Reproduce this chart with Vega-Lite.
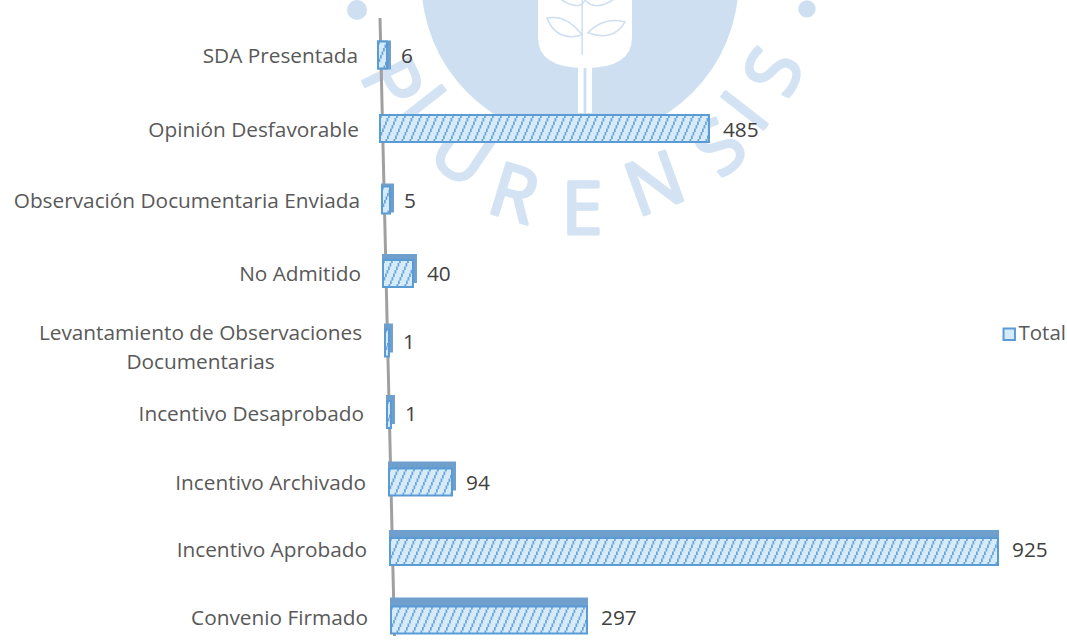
{
"$schema":"https://vega.github.io/schema/vega-lite/v6.json",
"width":612,"height":618,"autosize":{"type":"none"},
"padding":{"left":386,"top":18,"right":69,"bottom":8},
"background":"white",
"config":{"view":{"stroke":null},"font":"Open Sans"},
"params":[
{"name":"ini","value":[-8,-6,-4,-3,-1,1,3,4,5]},
{"name":"fin","value":[-3,2,0.7,0.5,2.3,4.3,3.8,0,4.5]},
{"name":"yo","value":[0,3,4,7,6,7,4,3,1]},
{"name":"franja","value":[0,0,2,5,5,5,6,7,8]},
{"name":"lado","value":[3,0,3,3,3,3,3,0,0]},
{"name":"eje","value":[-6,-3.4,-1.7,0,1.6,3.3,4.9,6.5,8.5]},
{"name":"ejey","value":[-37,3,4,7,6,7,4,3,17]},
{"name":"etx","value":[-28,-27,-26,-25,-185.5,-22,-20,-19,-18]},
{"name":"ety","value":[2,6,6,9,-3,8,6,3,0]},
{"name":"vay","value":[2,6,6,9,6,8,6,3,0]},
{"name":"letras","value":["P","I","U","R","E","N","S","I","S"]},
{"name":"lx","value":[3,33,74,127,196,270,336,362,391]},
{"name":"ly","value":[30,-18.5,-39,-69.5,-125,-220.5,-328,-435.5,-546]},
{"name":"la","value":[64,52,34,17,0,-20,-40,-52,-65]}
],
"data":{"values":[
{"n":0,"estado":"SDA Presentada","total":6},
{"n":1,"estado":"Opinión Desfavorable","total":485},
{"n":2,"estado":"Observación Documentaria Enviada","total":5},
{"n":3,"estado":"No Admitido","total":40},
{"n":4,"estado":"Levantamiento de Observaciones\nDocumentarias","total":1},
{"n":5,"estado":"Incentivo Desaprobado","total":1},
{"n":6,"estado":"Incentivo Archivado","total":94},
{"n":7,"estado":"Incentivo Aprobado","total":925},
{"n":8,"estado":"Convenio Firmado","total":297}
]},
"encoding":{
"y":{"field":"estado","type":"nominal","sort":null,"axis":null,"scale":{"paddingInner":0.57,"paddingOuter":0.168,"align":0.92}},
"x":{"field":"total","type":"quantitative","axis":null,"scale":{"domain":[0,925],"nice":false,"zero":true}}
},
"layer":[
{"transform":[{"filter":"datum.n==0"}],"mark":{"type":"point","shape":"circle","filled":true,"opacity":1,"fill":"#cddff1","size":100660,"xOffset":194,"yOffset":-74},
"encoding":{"x":{"datum":0}}},
{"transform":[{"filter":"datum.n==0"}],"mark":{"type":"point","shape":"circle","filled":true,"opacity":1,"fill":"#cddff1","size":400,"xOffset":-29,"yOffset":-45},
"encoding":{"x":{"datum":0}}},
{"transform":[{"filter":"datum.n==0"}],"mark":{"type":"point","shape":"circle","filled":true,"opacity":1,"fill":"#cddff1","size":300,"xOffset":421,"yOffset":-46},
"encoding":{"x":{"datum":0}}},
{"transform":[{"filter":"datum.n==0"}],"mark":{"type":"point","filled":true,"opacity":1,"fill":"white","size":8836,"xOffset":199,"yOffset":-34,
"shape":"M-1,-1.2 L1,-1.2 L1,0.35 Q1,1 0,1 Q-1,1 -1,0.35 Z M-0.15,0.95 L-0.03,0.95 L-0.03,1.96 L-0.15,1.96 Z M0.03,0.95 L0.15,0.95 L0.15,1.96 L0.03,1.96 Z"},
"encoding":{"x":{"datum":0}}},
{"transform":[{"filter":"datum.n==0"}],"mark":{"type":"point","filled":false,"opacity":1,"stroke":"#cddff1","strokeWidth":1.5,"size":8836,"xOffset":199,"yOffset":-34,
"shape":"M-0.81,-0.06 Q-0.4,-0.15 -0.06,0.3 Q-0.6,0.45 -0.81,-0.06 Z M0.06,0.25 Q0.4,-0.1 0.85,0.02 Q0.6,0.45 0.06,0.25 Z M-0.06,-0.5 L-0.06,0.72 M-0.5,-0.45 Q-0.1,-0.2 0,-0.45 Q0.2,-0.2 0.6,-0.45"},
"encoding":{"x":{"datum":0}}},
{"mark":{"type":"text","font":"Open Sans","fontSize":74,"fill":"#d3e3f3","stroke":"#d3e3f3","strokeWidth":3,"strokeJoin":"round","baseline":"middle","align":"center",
"text":{"expr":"letras[datum.n]"},"xOffset":{"expr":"lx[datum.n]"},"yOffset":{"expr":"ly[datum.n]"},"angle":{"expr":"la[datum.n]"}},
"encoding":{"x":{"datum":0}}},
{"mark":{"type":"line","stroke":"#a0a0a0","strokeWidth":3,"xOffset":{"expr":"eje[datum.n]"},"yOffset":{"expr":"ejey[datum.n]"}},
"encoding":{"x":{"datum":0},"order":{"field":"n"}}},
{"mark":{"type":"bar","fill":"#6f9fcd","stroke":"#6f9fcd","strokeWidth":2,"size":27,
"xOffset":{"expr":"fin[datum.n]+lado[datum.n]"},"x2Offset":{"expr":"ini[datum.n]"},"yOffset":{"expr":"yo[datum.n]-franja[datum.n]"},"y2Offset":{"expr":"yo[datum.n]-franja[datum.n]"}},
"encoding":{"x2":{"datum":0}}},
{"mark":{"type":"bar","stroke":null,"size":27,
"xOffset":{"expr":"fin[datum.n]"},"x2Offset":{"expr":"ini[datum.n]"},"yOffset":{"expr":"yo[datum.n]"},"y2Offset":{"expr":"yo[datum.n]"}},
"encoding":{"x2":{"datum":0},"fill":{"datum":"Total","scale":{"range":["#d6ebfa"]},
"legend":{"orient":"none","legendX":613,"legendY":306,"title":null,"symbolType":"square","symbolSize":130,"symbolStrokeColor":"#5b9bd5","symbolStrokeWidth":2,"labelFontSize":20.5,"labelColor":"#595959","labelFont":"Open Sans","labelOffset":-1}}}},
{"mark":{"type":"rule","stroke":"#6ea6d9","strokeWidth":3.5,"strokeDash":[1.8,6.2],"strokeDashOffset":0,"xOffset":{"expr":"ini[datum.n]"},"x2Offset":{"expr":"fin[datum.n]"},"yOffset":{"expr":"yo[datum.n]-12.25"}},"encoding":{"x":{"datum":0},"x2":{"field":"total"}}},
{"mark":{"type":"rule","stroke":"#6ea6d9","strokeWidth":3.5,"strokeDash":[1.8,6.2],"strokeDashOffset":1.5,"xOffset":{"expr":"ini[datum.n]"},"x2Offset":{"expr":"fin[datum.n]"},"yOffset":{"expr":"yo[datum.n]-8.75"}},"encoding":{"x":{"datum":0},"x2":{"field":"total"}}},
{"mark":{"type":"rule","stroke":"#6ea6d9","strokeWidth":3.5,"strokeDash":[1.8,6.2],"strokeDashOffset":3,"xOffset":{"expr":"ini[datum.n]"},"x2Offset":{"expr":"fin[datum.n]"},"yOffset":{"expr":"yo[datum.n]-5.25"}},"encoding":{"x":{"datum":0},"x2":{"field":"total"}}},
{"mark":{"type":"rule","stroke":"#6ea6d9","strokeWidth":3.5,"strokeDash":[1.8,6.2],"strokeDashOffset":4.5,"xOffset":{"expr":"ini[datum.n]"},"x2Offset":{"expr":"fin[datum.n]"},"yOffset":{"expr":"yo[datum.n]-1.75"}},"encoding":{"x":{"datum":0},"x2":{"field":"total"}}},
{"mark":{"type":"rule","stroke":"#6ea6d9","strokeWidth":3.5,"strokeDash":[1.8,6.2],"strokeDashOffset":6,"xOffset":{"expr":"ini[datum.n]"},"x2Offset":{"expr":"fin[datum.n]"},"yOffset":{"expr":"yo[datum.n]+1.75"}},"encoding":{"x":{"datum":0},"x2":{"field":"total"}}},
{"mark":{"type":"rule","stroke":"#6ea6d9","strokeWidth":3.5,"strokeDash":[1.8,6.2],"strokeDashOffset":7.5,"xOffset":{"expr":"ini[datum.n]"},"x2Offset":{"expr":"fin[datum.n]"},"yOffset":{"expr":"yo[datum.n]+5.25"}},"encoding":{"x":{"datum":0},"x2":{"field":"total"}}},
{"mark":{"type":"rule","stroke":"#6ea6d9","strokeWidth":3.5,"strokeDash":[1.8,6.2],"strokeDashOffset":9,"xOffset":{"expr":"ini[datum.n]"},"x2Offset":{"expr":"fin[datum.n]"},"yOffset":{"expr":"yo[datum.n]+8.75"}},"encoding":{"x":{"datum":0},"x2":{"field":"total"}}},
{"mark":{"type":"rule","stroke":"#6ea6d9","strokeWidth":3.5,"strokeDash":[1.8,6.2],"strokeDashOffset":10.5,"xOffset":{"expr":"ini[datum.n]"},"x2Offset":{"expr":"fin[datum.n]"},"yOffset":{"expr":"yo[datum.n]+12.25"}},"encoding":{"x":{"datum":0},"x2":{"field":"total"}}},
{"mark":{"type":"bar","fill":null,"stroke":"#5b9bd5","strokeWidth":2,"size":27,
"xOffset":{"expr":"fin[datum.n]"},"x2Offset":{"expr":"ini[datum.n]"},"yOffset":{"expr":"yo[datum.n]"},"y2Offset":{"expr":"yo[datum.n]"}},
"encoding":{"x2":{"datum":0}}},
{"mark":{"type":"text","fontSize":20.8,"fill":"#595959","lineBreak":"\n","lineHeight":29,"baseline":"middle",
"align":{"expr":"datum.n==4?'center':'right'"},"xOffset":{"expr":"etx[datum.n]"},"yOffset":{"expr":"ety[datum.n]"}},
"encoding":{"x":{"datum":0},"text":{"field":"estado"}}},
{"mark":{"type":"text","fontSize":20.8,"fill":"#404040","baseline":"middle","align":"left",
"xOffset":{"expr":"fin[datum.n]+14"},"yOffset":{"expr":"vay[datum.n]"}},
"encoding":{"text":{"field":"total","type":"quantitative"}}}
]
}
